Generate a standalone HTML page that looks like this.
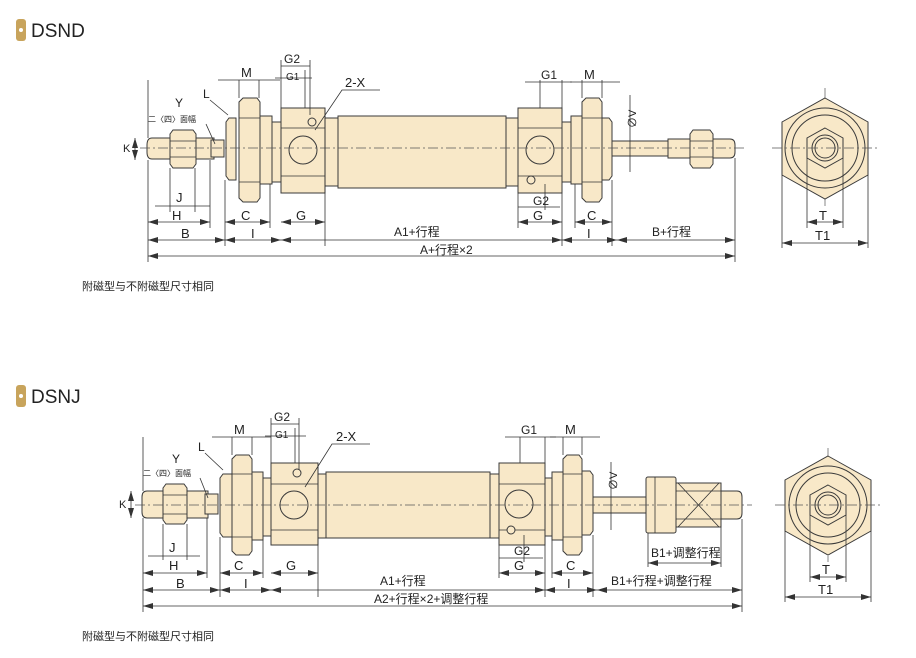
<!DOCTYPE html>
<html><head><meta charset="utf-8"><style>
body{margin:0;background:#fff;width:916px;height:658px;overflow:hidden}
svg{display:block}
text{font-family:"Liberation Sans","Noto Sans CJK SC",sans-serif;fill:#222}
.p{fill:#f8e8c8;stroke:#3a3a3a;stroke-width:1}
.d{stroke:#333;stroke-width:0.8;fill:none}
.a{stroke:#333;stroke-width:0.8;fill:none;marker-start:url(#ar);marker-end:url(#ar)}
.c{stroke:#555;stroke-width:0.7;stroke-dasharray:10 3 2 3;fill:none}
</style></head><body>
<svg width="916" height="658" viewBox="0 0 916 658" xmlns="http://www.w3.org/2000/svg">
<defs><marker id="ar" viewBox="0 0 10 6" refX="10" refY="3" markerWidth="10" markerHeight="6" orient="auto-start-reverse" markerUnits="userSpaceOnUse"><path d="M0,0L10,3L0,6z" fill="#333"/></marker></defs>

<!-- headers -->
<rect x="16" y="19" width="10" height="22" rx="3" fill="#c8a45c"/><circle cx="21" cy="30" r="2" fill="#fff"/>
<text x="31" y="37" font-size="19" fill="#222">DSND</text>
<rect x="16" y="385" width="10" height="22" rx="3" fill="#c8a45c"/><circle cx="21" cy="396" r="2" fill="#fff"/>
<text x="31" y="403" font-size="19" fill="#222">DSNJ</text>
<text x="82" y="290" font-size="11">附磁型与不附磁型尺寸相同</text>
<text x="82" y="640" font-size="11">附磁型与不附磁型尺寸相同</text>

<!-- ========== DSND ========== -->
<g>
<path class="p" d="M152,138H214V159H152Q147,159 147,152V145Q147,138 152,138Z"/>
<path class="p" d="M173,130H193L196,134V164L193,168H173L170,164V134Z"/>
<line class="d" x1="170" y1="141" x2="196" y2="141"/><line class="d" x1="170" y1="157" x2="196" y2="157"/>
<rect class="p" x="211" y="140" width="13" height="17"/>
<path class="p" d="M229,118H236V180H229L226,176V122Z"/>
<path class="p" d="M243,98H257L260,102V198L257,202H243L239,198V102Z"/>
<line class="d" x1="239" y1="118" x2="260" y2="118"/><line class="d" x1="239" y1="182" x2="260" y2="182"/>
<rect class="p" x="260" y="116" width="12" height="68"/>
<rect class="p" x="272" y="122" width="9" height="60"/>
<rect class="p" x="281" y="108" width="44" height="85"/>
<line class="d" x1="281" y1="128" x2="325" y2="128"/><line class="d" x1="281" y1="176" x2="325" y2="176"/>
<circle class="p" cx="303" cy="150" r="14"/><circle class="p" cx="312" cy="122" r="4"/>
<rect class="p" x="325" y="118" width="13" height="68"/>
<rect class="p" x="338" y="116" width="168" height="72"/>
<rect class="p" x="506" y="118" width="12" height="68"/>
<rect class="p" x="518" y="108" width="44" height="85"/>
<line class="d" x1="518" y1="128" x2="562" y2="128"/><line class="d" x1="518" y1="176" x2="562" y2="176"/>
<circle class="p" cx="540" cy="150" r="14"/><circle class="p" cx="531" cy="180" r="4"/>
<rect class="p" x="562" y="122" width="9" height="60"/>
<rect class="p" x="571" y="116" width="11" height="68"/>
<path class="p" d="M586,98H599L602,102V198L599,202H586L582,198V102Z"/>
<line class="d" x1="582" y1="118" x2="602" y2="118"/><line class="d" x1="582" y1="182" x2="602" y2="182"/>
<path class="p" d="M602,118H609L612,122V176L609,180H602Z"/>
<rect class="p" x="612" y="141" width="56" height="15"/>
<rect class="p" x="668" y="139" width="22" height="19"/>
<path class="p" d="M693,130H710L713,134V164L710,168H693L690,164V134Z"/>
<line class="d" x1="690" y1="141" x2="713" y2="141"/><line class="d" x1="690" y1="157" x2="713" y2="157"/>
<path class="p" d="M713,139H730Q735,139 735,145V152Q735,158 730,158H713Z"/>
<line class="c" x1="140" y1="148" x2="745" y2="148"/>
<!-- ext lines -->
<path class="d" d="M148,160V262M225,180V246M210,160V228M170,168V212M195,168V212M239,80V98M259,80V98M281,60V108M325,110V246M305,70V108M310,60V115M270,184V228M562,193V246M518,193V228M545,184V210M540,80V108M562,80V108M582,80V98M602,80V98M612,180V246M735,158V262M575,184V228M148,80V138"/>
<line class="a" x1="148" y1="256" x2="735" y2="256"/>
<text x="420" y="254" font-size="12">A+行程×2</text>
<line class="a" x1="148" y1="240" x2="225" y2="240"/><text x="181" y="238" font-size="13">B</text>
<line class="a" x1="225" y1="240" x2="281" y2="240"/><text x="251" y="238" font-size="13">I</text>
<line class="a" x1="281" y1="240" x2="562" y2="240"/><text x="394" y="236" font-size="12">A1+行程</text>
<line class="a" x1="562" y1="240" x2="617" y2="240"/><text x="587" y="238" font-size="13">I</text>
<line class="a" x1="617" y1="240" x2="735" y2="240"/><text x="652" y="236" font-size="12">B+行程</text>
<line class="a" x1="148" y1="222" x2="210" y2="222"/><text x="172" y="220" font-size="13">H</text>
<line class="a" x1="225" y1="222" x2="270" y2="222"/><text x="241" y="220" font-size="13">C</text>
<line class="a" x1="281" y1="222" x2="325" y2="222"/><text x="296" y="220" font-size="13">G</text>
<line class="a" x1="518" y1="222" x2="562" y2="222"/><text x="533" y="220" font-size="13">G</text>
<line class="a" x1="575" y1="222" x2="612" y2="222"/><text x="587" y="220" font-size="13">C</text>
<line class="d" x1="155" y1="206" x2="210" y2="206"/><text x="176" y="202" font-size="13">J</text>
<line class="d" x1="518" y1="207" x2="560" y2="207"/><text x="533" y="205" font-size="12">G2</text>
<line class="d" x1="218" y1="80" x2="280" y2="80"/><text x="241" y="77" font-size="13">M</text>
<line class="d" x1="275" y1="78" x2="312" y2="78"/><text x="286" y="80" font-size="10">G1</text>
<line class="d" x1="281" y1="66" x2="310" y2="66"/><text x="284" y="63" font-size="12">G2</text>
<line class="d" x1="525" y1="82" x2="572" y2="82"/><text x="541" y="79" font-size="12">G1</text>
<line class="d" x1="570" y1="82" x2="620" y2="82"/><text x="584" y="79" font-size="13">M</text>
<text x="345" y="87" font-size="13">2-X</text>
<path class="d" d="M380,90H342L315,130"/>
<text x="203" y="98" font-size="12">L</text><path class="d" d="M210,100L228,115"/>
<text x="175" y="107" font-size="12">Y</text>
<text x="148" y="122" font-size="8">二〈四〉面幅</text><path class="d" d="M206,124L215,144"/>
<line class="a" x1="135" y1="138" x2="135" y2="160"/><text x="123" y="152" font-size="11">K</text>
<line class="d" x1="630" y1="95" x2="630" y2="172"/>
<text transform="translate(636,128) rotate(-90)" font-size="11">∅V</text>
<!-- end view -->
<line class="c" x1="825" y1="88" x2="825" y2="206"/>
<path class="p" d="M825,98L868,122V175L825,199L782,175V122Z"/>
<circle class="p" cx="825" cy="148" r="40"/><circle class="p" cx="825" cy="148" r="33"/>
<path class="p" d="M825,128L843,138V158L825,168L807,158V138Z"/>
<circle class="p" cx="825" cy="148" r="13"/><circle class="p" cx="825" cy="148" r="10"/>
<line class="c" x1="772" y1="148" x2="880" y2="148"/>
<path class="d" d="M807,158V228M843,158V228M782,175V248M868,175V248"/>
<line class="a" x1="807" y1="222" x2="843" y2="222"/><text x="819" y="220" font-size="13">T</text>
<line class="a" x1="782" y1="243" x2="868" y2="243"/><text x="815" y="240" font-size="13">T1</text>
</g>

<!-- ========== DSNJ ========== -->
<g>
<path class="p" d="M147,491H208V518H147Q142,518 142,512V497Q142,491 147,491Z"/>
<path class="p" d="M166,484H184L187,488V520L184,524H166L163,520V488Z"/>
<line class="d" x1="163" y1="495" x2="187" y2="495"/><line class="d" x1="163" y1="514" x2="187" y2="514"/>
<rect class="p" x="205" y="494" width="13" height="20"/>
<path class="p" d="M223,474H232V537H223L220,533V478Z"/>
<path class="p" d="M236,455H249L252,459V551L249,555H236L232,551V459Z"/>
<line class="d" x1="232" y1="474" x2="252" y2="474"/><line class="d" x1="232" y1="537" x2="252" y2="537"/>
<rect class="p" x="252" y="472" width="11" height="68"/>
<rect class="p" x="263" y="478" width="8" height="58"/>
<rect class="p" x="271" y="463" width="47" height="82"/>
<line class="d" x1="271" y1="484" x2="318" y2="484"/><line class="d" x1="271" y1="530" x2="318" y2="530"/>
<circle class="p" cx="294" cy="505" r="14"/><circle class="p" cx="297" cy="473" r="4"/>
<rect class="p" x="318" y="474" width="8" height="64"/>
<rect class="p" x="326" y="472" width="164" height="66"/>
<rect class="p" x="490" y="474" width="9" height="64"/>
<rect class="p" x="499" y="463" width="46" height="82"/>
<line class="d" x1="499" y1="484" x2="545" y2="484"/><line class="d" x1="499" y1="530" x2="545" y2="530"/>
<circle class="p" cx="519" cy="504" r="14"/><circle class="p" cx="511" cy="530" r="4"/>
<rect class="p" x="545" y="478" width="7" height="58"/>
<rect class="p" x="552" y="472" width="11" height="68"/>
<path class="p" d="M567,455H579L582,459V551L579,555H567L563,551V459Z"/>
<line class="d" x1="563" y1="474" x2="582" y2="474"/><line class="d" x1="563" y1="537" x2="582" y2="537"/>
<path class="p" d="M582,471H590L593,475V531L590,535H582Z"/>
<rect class="p" x="593" y="497" width="56" height="16"/>
<rect class="p" x="646" y="477" width="30" height="56" rx="2"/>
<line class="d" x1="655" y1="477" x2="655" y2="533"/>
<rect class="p" x="676" y="483" width="45" height="44"/>
<path class="d" d="M678,483L719,527M719,483L678,527"/>
<line class="d" x1="676" y1="491" x2="721" y2="491"/><line class="d" x1="676" y1="519" x2="721" y2="519"/>
<path class="p" d="M721,491H737Q742,491 742,497V513Q742,519 737,519H721Z"/>
<line class="c" x1="135" y1="505" x2="752" y2="505"/>
<path class="d" d="M143,518V612M220,537V597M207,518V578M163,524V560M187,524V560M232,437V455M252,437V455M271,418V463M318,530V597M295,428V463M299,418V470M263,540V578M545,545V597M499,545V578M524,535V562M520,437V463M545,437V463M563,437V455M582,437V455M593,535V597M742,519V612M552,540V578M648,533V567M721,527V567M143,437V491"/>
<line class="a" x1="143" y1="606" x2="742" y2="606"/>
<text x="374" y="603" font-size="12">A2+行程×2+调整行程</text>
<line class="a" x1="143" y1="590" x2="220" y2="590"/><text x="176" y="588" font-size="13">B</text>
<line class="a" x1="220" y1="590" x2="271" y2="590"/><text x="244" y="588" font-size="13">I</text>
<line class="a" x1="271" y1="590" x2="545" y2="590"/><text x="380" y="585" font-size="12">A1+行程</text>
<line class="a" x1="545" y1="590" x2="597" y2="590"/><text x="567" y="588" font-size="13">I</text>
<line class="a" x1="597" y1="590" x2="742" y2="590"/><text x="611" y="585" font-size="12">B1+行程+调整行程</text>
<line class="a" x1="143" y1="573" x2="207" y2="573"/><text x="169" y="570" font-size="13">H</text>
<line class="a" x1="220" y1="573" x2="263" y2="573"/><text x="234" y="570" font-size="13">C</text>
<line class="a" x1="271" y1="573" x2="318" y2="573"/><text x="286" y="570" font-size="13">G</text>
<line class="a" x1="499" y1="573" x2="545" y2="573"/><text x="514" y="570" font-size="13">G</text>
<line class="a" x1="552" y1="573" x2="593" y2="573"/><text x="566" y="570" font-size="13">C</text>
<line class="a" x1="648" y1="563" x2="721" y2="563"/><text x="651" y="557" font-size="12">B1+调整行程</text>
<line class="d" x1="148" y1="556" x2="200" y2="556"/><text x="169" y="552" font-size="13">J</text>
<line class="d" x1="499" y1="558" x2="543" y2="558"/><text x="514" y="555" font-size="12">G2</text>
<line class="d" x1="212" y1="437" x2="271" y2="437"/><text x="234" y="434" font-size="13">M</text>
<line class="d" x1="265" y1="436" x2="306" y2="436"/><text x="275" y="438" font-size="10">G1</text>
<line class="d" x1="271" y1="424" x2="299" y2="424"/><text x="274" y="421" font-size="12">G2</text>
<line class="d" x1="505" y1="437" x2="556" y2="437"/><text x="521" y="434" font-size="12">G1</text>
<line class="d" x1="550" y1="437" x2="600" y2="437"/><text x="565" y="434" font-size="13">M</text>
<text x="336" y="441" font-size="13">2-X</text>
<path class="d" d="M370,444H332L305,487"/>
<text x="198" y="451" font-size="12">L</text><path class="d" d="M205,453L223,470"/>
<text x="172" y="463" font-size="12">Y</text>
<text x="143" y="476" font-size="8">二〈四〉面幅</text><path class="d" d="M200,478L208,498"/>
<line class="a" x1="131" y1="491" x2="131" y2="518"/><text x="119" y="508" font-size="11">K</text>
<line class="d" x1="611" y1="462" x2="611" y2="530"/>
<text transform="translate(617,490) rotate(-90)" font-size="11">∅V</text>
<line class="c" x1="828" y1="448" x2="828" y2="562"/>
<path class="p" d="M828,456L871,480V531L828,555L785,531V480Z"/>
<circle class="p" cx="828" cy="505" r="39"/><circle class="p" cx="828" cy="505" r="32"/>
<path class="p" d="M828,485L846,495V515L828,525L810,515V495Z"/>
<circle class="p" cx="828" cy="505" r="13"/><circle class="p" cx="828" cy="505" r="10"/>
<line class="c" x1="775" y1="505" x2="883" y2="505"/>
<path class="d" d="M810,515V582M846,515V582M785,531V602M871,531V602"/>
<line class="a" x1="810" y1="577" x2="846" y2="577"/><text x="822" y="574" font-size="13">T</text>
<line class="a" x1="785" y1="597" x2="871" y2="597"/><text x="818" y="594" font-size="13">T1</text>
</g>
</svg>
</body></html>
